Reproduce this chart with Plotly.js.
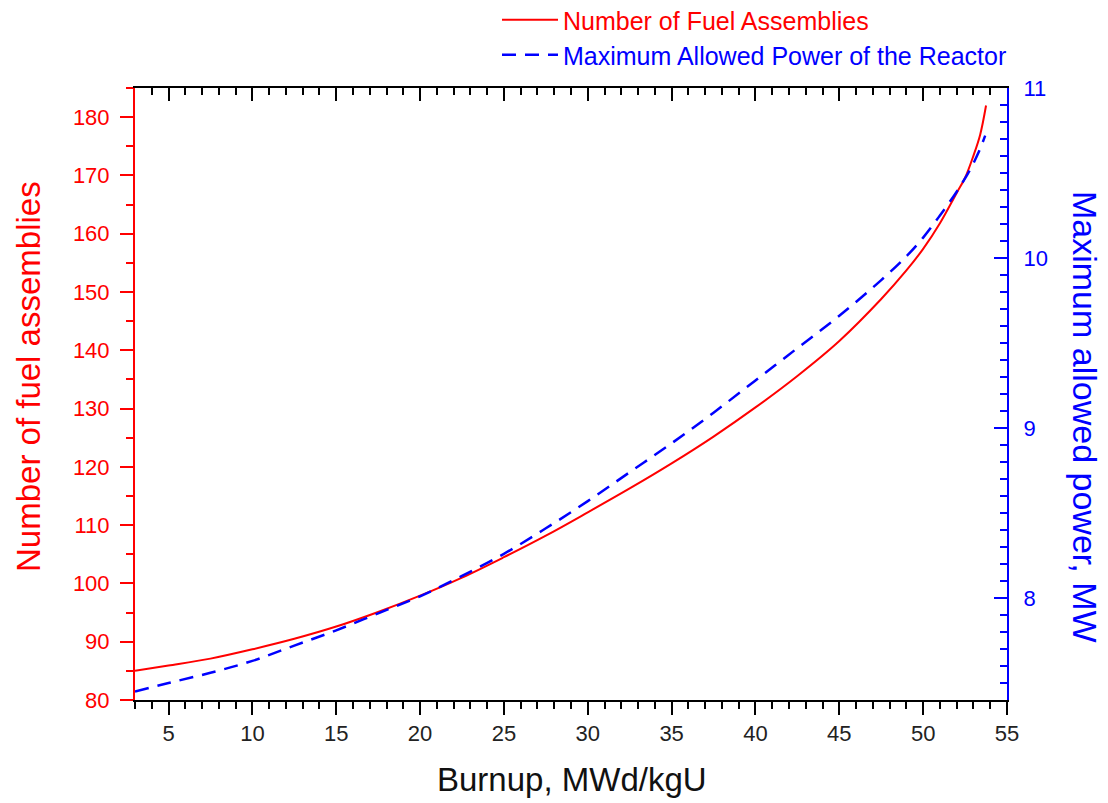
<!DOCTYPE html>
<html>
<head>
<meta charset="utf-8">
<script src="https://cdn.plot.ly/plotly-3.0.1.min.js"></script>
<style>html,body{margin:0;padding:0;background:#fff;}#chart{width:1108px;height:803px;}</style>
</head>
<body>
<div id="chart"></div>
<script>
// Burnup values (MWd/kgU)
const burnupFA = [3, 5, 7.5, 10, 12.5, 15, 17.5, 20, 22.5, 25, 27.5, 30, 32.5, 35, 37.5, 40, 42.5, 45, 47.5, 49, 50, 51, 52, 52.5, 53, 53.4, 53.75];
// Number of fuel assemblies
const fuelAssemblies = [85.0, 85.9, 87.1, 88.7, 90.5, 92.6, 95.1, 97.9, 101.0, 104.5, 108.2, 112.2, 116.3, 120.6, 125.2, 130.2, 135.6, 141.6, 148.8, 153.7, 157.4, 161.8, 167.0, 169.6, 173.4, 177.0, 182.0];
const burnupPower = [3, 5, 7.5, 10, 12.5, 15, 17.5, 20, 22.5, 25, 27.5, 30, 32.5, 35, 37.5, 40, 42.5, 45, 47.5, 49, 50, 51, 52, 52.8, 53.3, 53.7];
// Maximum allowed power (MW)
const maxPower = [7.45, 7.50, 7.56, 7.63, 7.72, 7.81, 7.91, 8.01, 8.13, 8.26, 8.41, 8.57, 8.74, 8.91, 9.09, 9.28, 9.47, 9.66, 9.87, 10.01, 10.12, 10.25, 10.39, 10.52, 10.62, 10.72];

const seriesNames = ["Number of Fuel Assemblies", "Maximum Allowed Power of the Reactor"];
const axisTitles = {x: "Burnup, MWd/kgU", yLeft: "Number of fuel assemblies", yRight: "Maximum allowed power, MW"};

const FONT = "Liberation Sans, Arial, sans-serif";
const RED = "#ff0000", BLUE = "#0000ff";

const traces = [
  {x: burnupFA, y: fuelAssemblies, name: seriesNames[0], type: "scatter", mode: "lines",
   line: {color: RED, width: 2, shape: "spline", smoothing: 1}, xaxis: "x", yaxis: "y", legend: "legend"},
  {x: burnupPower, y: maxPower, name: seriesNames[1], type: "scatter", mode: "lines",
   line: {color: BLUE, width: 2.5, dash: "14px,9px", shape: "spline", smoothing: 1}, xaxis: "x", yaxis: "y2", legend: "legend2"}
];

const L = 135, R = 1007, T = 88, B = 700, W = 1108, H = 803;
const px2x = p => (p - L) / (R - L);
const px2y = p => (B - p) / (B - T);

const layout = {
  width: W, height: H,
  margin: {l: L, r: W - R, t: T, b: H - B, pad: 0, autoexpand: false},
  paper_bgcolor: "#fff", plot_bgcolor: "#fff",
  font: {family: FONT, size: 22, color: "#000"},
  showlegend: true,
  legend: {x: px2x(497), y: px2y(20), xanchor: "left", yanchor: "middle", bgcolor: "rgba(0,0,0,0)",
           font: {family: FONT, size: 25, color: RED}, itemwidth: 56},
  legend2: {x: px2x(497), y: px2y(55), xanchor: "left", yanchor: "middle", bgcolor: "rgba(0,0,0,0)",
            font: {family: FONT, size: 25, color: BLUE}, itemwidth: 56},
  xaxis: {
    range: [3, 55], tick0: 0, dtick: 5, ticks: "outside", ticklen: 13, tickwidth: 2, tickcolor: "#000",
    showline: true, linecolor: "#000", linewidth: 2, showgrid: false, zeroline: false,
    tickfont: {family: FONT, size: 22, color: "#222"},
    minor: {dtick: 1, tick0: 0, ticks: "outside", ticklen: 7, tickwidth: 2, tickcolor: "#000", showgrid: false}
  },
  xaxis2: {
    overlaying: "x", side: "top", matches: "x", range: [3, 55], tick0: 0, dtick: 5,
    ticks: "inside", ticklen: 13, tickwidth: 2, tickcolor: "#000", showticklabels: false,
    showline: true, linecolor: "#000", linewidth: 2, showgrid: false, zeroline: false,
    minor: {dtick: 1, tick0: 0, ticks: "inside", ticklen: 7, tickwidth: 2, tickcolor: "#000", showgrid: false}
  },
  yaxis: {
    range: [80, 185], tick0: 0, dtick: 10, ticks: "outside", ticklen: 13, tickwidth: 2, tickcolor: RED,
    showline: true, linecolor: RED, linewidth: 2, showgrid: false, zeroline: false,
    tickfont: {family: FONT, size: 22, color: RED}, ticklabelstandoff: 6,
    minor: {dtick: 5, tick0: 0, ticks: "outside", ticklen: 7, tickwidth: 2, tickcolor: RED, showgrid: false}
  },
  yaxis2: {
    overlaying: "y", side: "right", range: [7.4, 11], tick0: 0, dtick: 1,
    ticks: "inside", ticklen: 13, tickwidth: 2, tickcolor: BLUE,
    showline: true, linecolor: BLUE, linewidth: 2, showgrid: false, zeroline: false,
    tickfont: {family: FONT, size: 22, color: BLUE}, ticklabelstandoff: 10,
    minor: {dtick: 0.1, tick0: 0, ticks: "inside", ticklen: 7, tickwidth: 2, tickcolor: BLUE, showgrid: false}
  },
  annotations: [
    {text: axisTitles.x, xref: "paper", yref: "paper", x: px2x(572), y: px2y(779), xanchor: "center", yanchor: "middle",
     showarrow: false, font: {family: FONT, size: 33, color: "#111"}},
    {text: axisTitles.yLeft, xref: "paper", yref: "paper", x: px2x(28), y: px2y(377), xanchor: "center", yanchor: "middle",
     textangle: -90, showarrow: false, font: {family: FONT, size: 33, color: RED}},
    {text: axisTitles.yRight, xref: "paper", yref: "paper", x: px2x(1085), y: px2y(417), xanchor: "center", yanchor: "middle",
     textangle: 90, showarrow: false, font: {family: FONT, size: 34, color: BLUE}}
  ]
};

// invisible helper trace so the mirrored top axis is drawn
traces.push({x: [3, 55], y: [80, 80], xaxis: "x2", yaxis: "y", mode: "lines", line: {width: 0}, showlegend: false, hoverinfo: "skip"});

Plotly.newPlot("chart", traces, layout, {displayModeBar: false, staticPlot: true});
</script>
</body>
</html>
